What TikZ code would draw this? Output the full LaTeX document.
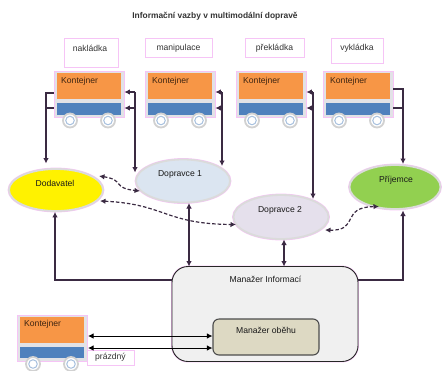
\documentclass[tikz,border=0pt]{standalone}
\usepackage{fontspec}
\setmainfont{Liberation Sans}
\usetikzlibrary{shapes.geometric,arrows.meta}
\definecolor{halo}{HTML}{F6C4F6}
\definecolor{wire}{HTML}{3A2A42}
\definecolor{orangebox}{HTML}{F79646}
\definecolor{bluebox}{HTML}{4F81BD}
\definecolor{framegray}{HTML}{E2E2E6}
\definecolor{carrierone}{HTML}{DBE5F1}
\definecolor{carriertwo}{HTML}{E5E0EC}
\definecolor{receiver}{HTML}{92D050}
\definecolor{innerbox}{HTML}{DDD9C3}
\tikzset{
  lbl/.style={font=\fontsize{8.6}{10}\selectfont,text=black!90,inner sep=0pt},
  tagbox/.style={draw=halo,fill=white,line width=0.9pt,inner sep=0pt,font=\fontsize{8.6}{10}\selectfont,text=black!80},
  frame/.style={draw=halo,fill=framegray,line width=0.8pt,inner sep=0pt,minimum width=70pt,minimum height=46pt},
  ob/.style={fill=orangebox,inner sep=0pt,minimum width=64pt,minimum height=26pt},
  bb/.style={fill=bluebox,inner sep=0pt,minimum width=64pt,minimum height=11.5pt},
  wheel/.style={circle,draw=black!18,fill=white,line width=1.8pt,inner sep=0pt,minimum size=14pt},
  hub/.style={circle,draw=bluebox!50,fill=white,line width=1pt,inner sep=0pt,minimum size=8.5pt},
  party/.style={ellipse,draw=black!14,line width=1.8pt,inner sep=0pt,
     preaction={draw=halo,line width=2.8pt},font=\fontsize{8.6}{10}\selectfont,text=black!85},
  wire1/.style={draw=wire,line width=1.2pt,preaction={draw=halo,line width=2.2pt}},
  tip/.style={-{Latex[length=5.5pt,width=5.5pt]}},
  twotip/.style={{Latex[length=5.5pt,width=5.5pt]}-{Latex[length=5.5pt,width=5.5pt]}},
  dash1/.style={draw=wire,line width=1.2pt,dash pattern=on 3.5pt off 2pt,
     {Latex[length=5.5pt,width=5.5pt]}-{Latex[length=5.5pt,width=5.5pt]}},
}
\newcommand{\trolley}[3]{%
  \node[frame] (#1) at (#2,#3) {};
  \node[ob] (#1o) at (#2,#3-8.5) {};
  \node[bb] (#1b) at (#2,#3+14.5) {};
  \node[lbl,text=black!75!orangebox,anchor=west] (#1t) at (#2-28,#3-13.5) {Kontejner};
  \node[wheel] (#1w) at (#2-19,#3+26) {};
  \node[hub] (#1h) at (#2-19,#3+26) {};
  \node[wheel] (#1x) at (#2+19,#3+26) {};
  \node[hub] (#1y) at (#2+19,#3+26) {};
}
\begin{document}
\begin{tikzpicture}[x=1pt,y=-1pt]
\useasboundingbox (0,0) rectangle (443,370);
\clip (0,0) rectangle (443,370);
\node[lbl,font=\fontsize{8.4}{10}\selectfont\bfseries,text=black!80] (title) at (215,16) {Informační vazby v multimodální dopravě};

\node[tagbox,minimum width=54pt,minimum height=29pt] (tagA) at (91,52.5) {};
\node[lbl,text=black!80] (tagAt) at (90,48.5) {nakládka};
\node[tagbox,minimum width=67pt,minimum height=19pt] (tagB) at (178.5,48) {manipulace};
\node[tagbox,minimum width=59pt,minimum height=19pt] (tagC) at (274.5,48) {překládka};
\node[tagbox,minimum width=52pt,minimum height=25pt] (tagD) at (357,50.5) {};
\node[lbl,text=black!80] (tagDt) at (357,48.5) {vykládka};

\trolley{ta}{89}{94.5}
\trolley{tb}{180}{94.5}
\trolley{tc}{271}{94.5}
\trolley{td}{358}{94.5}
\trolley{te}{52}{338}
\node[tagbox,minimum width=47pt,minimum height=15pt] (tagE) at (110.5,357.5) {prázdný};

\node[party,fill=yellow,minimum width=94pt,minimum height=42pt] (dod) at (56,190) {};
\node[lbl] (dodt) at (55,183.5) {Dodavatel};
\node[party,fill=carrierone,minimum width=94pt,minimum height=43pt] (dop1) at (183,181) {};
\node[lbl] (dop1t) at (180,174) {Dopravce 1};
\node[party,fill=carriertwo,minimum width=95pt,minimum height=44pt] (dop2) at (281,217) {};
\node[lbl] (dop2t) at (280,210) {Dopravce 2};
\node[party,fill=receiver,minimum width=91pt,minimum height=44pt] (pri) at (395,187) {};
\node[lbl] (prit) at (396,180) {Příjemce};

\node[draw=black!85,fill=black!6,line width=0.9pt,rounded corners=16pt,inner sep=0pt,
  minimum width=186pt,minimum height=95pt,preaction={draw=halo,line width=1.9pt}] (mgr) at (265,314) {};
\node[lbl] (mgrt) at (265.5,279.5) {Manažer Informací};
\node[draw=black!70,fill=innerbox,line width=1.1pt,rounded corners=6pt,inner sep=0pt,
  minimum width=106pt,minimum height=36pt] (obeh) at (266,337) {};
\node[lbl] (obeht) at (266,330) {Manažer oběhu};

% connectors: trolley to party
\coordinate (a1) at (46,93);
\coordinate (a2) at (46,108);
\coordinate (a3) at (46,163.5);
\draw[wire1,tip] (ta.west |- a1) -- (a1) -- (a3);
\draw[wire1] (ta.west |- a2) -- (a2);
\coordinate (b1) at (135,92);
\coordinate (b2) at (135,108);
\coordinate (b3) at (135,172.5);
\draw[wire1,tip] (b1) -- (ta.east |- b1);
\draw[wire1,tip] (b2) -- (ta.east |- b2);
\draw[wire1,tip] (b1) -- (b3);
\coordinate (c1) at (222,92);
\coordinate (c2) at (222,108);
\coordinate (c3) at (222,166);
\draw[wire1,tip] (c1) -- (tb.east |- c1);
\draw[wire1,tip] (c2) -- (tb.east |- c2);
\draw[wire1,tip] (c1) -- (c3);
\coordinate (d1) at (313,92);
\coordinate (d2) at (313,108);
\coordinate (d3) at (313,199);
\draw[wire1,tip] (d1) -- (tc.east |- d1);
\draw[wire1,tip] (d2) -- (tc.east |- d2);
\draw[wire1,tip] (d1) -- (d3);
\coordinate (e1) at (403,89);
\coordinate (e2) at (403,108);
\coordinate (e3) at (403,164);
\draw[wire1,tip] (td.east |- e1) -- (e1) -- (e3);
\draw[wire1] (td.east |- e2) -- (e2);

% connectors: manager to parties
\coordinate (f1) at (55,280);
\coordinate (g1) at (403,280);
\draw[wire1,tip] (mgr.west |- f1) -- (f1) -- (dod.south -| f1);
\draw[wire1,tip] (mgr.east |- g1) -- (g1) -- (403,210.5);
\coordinate (h1) at (189,203);
\coordinate (h2) at (189,266.5);
\draw[wire1,twotip] (h1) -- (h2);
\coordinate (i1) at (284,239.5);
\coordinate (i2) at (284,266.5);
\draw[wire1,twotip] (i1) -- (i2);

% dashed
\coordinate (p1) at (99,176);
\coordinate (p2) at (140,191);
\draw[dash1] (p1) .. controls (125,180) and (112,188) .. (p2);
\coordinate (q1) at (100,201);
\coordinate (q2) at (236,224.5);
\draw[dash1] (q1) .. controls (165,204) and (165,224) .. (q2);
\coordinate (r1) at (325,230);
\coordinate (r2) at (379,206.5);
\draw[dash1] (r1) .. controls (360,231) and (340,207) .. (r2);

% bottom arrows
\coordinate (s1) at (88,336);
\coordinate (s2) at (88,348);
\draw[draw=black,line width=0.9pt,twotip] (s1) -- (obeh.west |- s1);
\draw[draw=black,line width=0.9pt,twotip] (s2) -- (obeh.west |- s2);
\end{tikzpicture}
\end{document}
